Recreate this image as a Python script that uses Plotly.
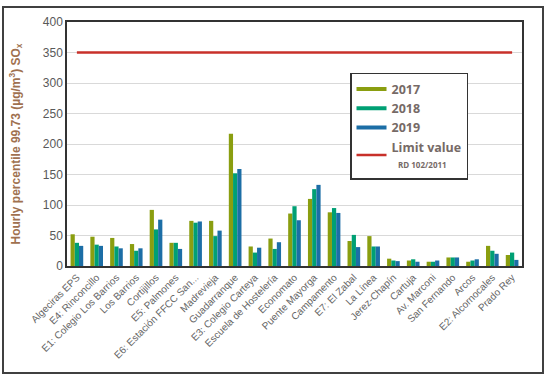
import plotly.graph_objects as go

stations = ["Algeciras EPS", "E4: Rinconcillo", "E1: Colegio Los Barrios", "Los Barrios",
            "Cortijillos", "E5: Palmones", "E6: Estación FFCC San...", "Madrevieja",
            "Guadarranque", "E3: Colegio Carteya", "Escuela de Hostelería", "Economato",
            "Puente Mayorga", "Campamento", "E7: El Zabal", "La Línea", "Jerez-Chapín",
            "Cartuja", "Av. Marconi", "San Fernando", "Arcos", "E2: Alcornocales", "Prado Rey"]

v2017 = [52, 48, 46, 36, 92, 38, 74, 74, 217, 32, 45, 86, 110, 88, 41, 49, 12, 9, 7, 14, 7, 33, 18]
v2018 = [38, 35, 32, 25, 60, 38, 71, 49, 152, 22, 28, 98, 126, 95, 51, 32, 9, 11, 7, 14, 9, 25, 22]
v2019 = [33, 33, 29, 29, 76, 28, 73, 58, 159, 30, 39, 75, 133, 87, 31, 32, 8, 7, 9, 14, 11, 20, 10]
limit_value = 350
limit = [limit_value] * len(stations)

years = ["2017", "2018", "2019"]
colors = ["#8a9e10", "#00a074", "#1c6ea6"]
series = [v2017, v2018, v2019]

fig = go.Figure()
for name, vals, col in zip(years, series, colors):
    fig.add_trace(go.Bar(x=stations, y=vals, name=name, marker_color=col,
                         marker_line_width=0, showlegend=False))
for name, col in zip(years, colors):
    fig.add_trace(go.Scatter(x=[None], y=[None], mode="lines", name=name,
                             line=dict(color=col, width=4)))
fig.add_trace(go.Scatter(x=stations, y=limit, mode="lines",
                         name="Limit value<br>  <span style='font-size:8px'>RD 102/2011</span>",
                         line=dict(color="#c8302a", width=2.5)))

fig.update_layout(
    width=550, height=380,
    margin=dict(l=67, r=28, t=22, b=114, autoexpand=False),
    paper_bgcolor="white", plot_bgcolor="white",
    barmode="group", bargap=0.36, bargroupgap=0,
    font=dict(family="Liberation Sans, Arial, sans-serif", color="#595959"),
    legend=dict(x=0.622, y=0.791, xanchor="left", yanchor="top",
                bgcolor="white", bordercolor="#333333", borderwidth=1.5,
                font=dict(family="Open Sans, sans-serif", size=12.5, color="#766a66",
                          weight="bold"),
                tracegroupgap=0, itemwidth=30),
    xaxis=dict(type="category", tickangle=-45, tickfont=dict(size=10, color="#666666"),
               showline=True, linecolor="#333333", linewidth=1.5, mirror=True,
               ticks="", showgrid=False, automargin=False),
    yaxis=dict(range=[0, 400], dtick=50, tickfont=dict(size=12, color="#595959"),
               showgrid=True, gridcolor="#d9d9d9", gridwidth=1,
               showline=True, linecolor="#333333", linewidth=1.5, mirror=True,
               ticks="", zeroline=False, automargin=False,
               title=dict(text="Hourly percentile 99.73 (µg/m<sup>3</sup>) SO<sub>x</sub>",
                          font=dict(size=12, color="#a0714f", weight="bold"),
                          standoff=20)),
    shapes=[dict(type="rect", xref="paper", yref="paper",
                 x0=(3 - 67) / 455, x1=(543 - 67) / 455,
                 y0=(266 - 373) / 244, y1=(266 - 7) / 244,
                 line=dict(color="#404040", width=2), fillcolor="rgba(0,0,0,0)")],
)

fig.write_html("out.html", config={"displayModeBar": False},
               post_script="document.body.style.margin='0';document.body.style.overflow='hidden';")
